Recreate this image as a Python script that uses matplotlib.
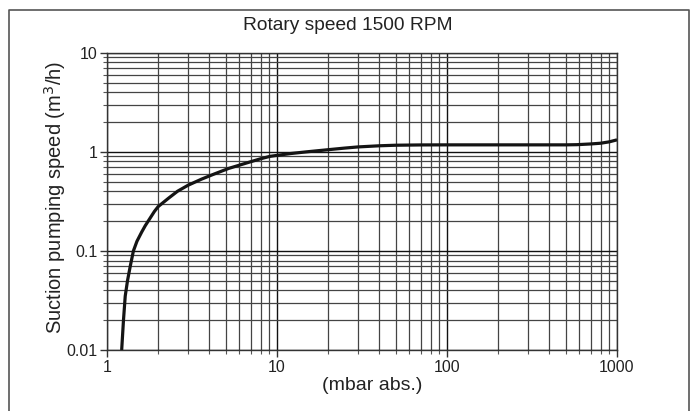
"""Suction pumping speed curve at 1500 RPM."""
import matplotlib
matplotlib.use("Agg")
import matplotlib.pyplot as plt
import matplotlib.ticker as mticker
from matplotlib.lines import Line2D

# pressure (mbar abs.) vs pumping speed (m3/h)
PRESSURE = [1.22, 1.25, 1.28, 1.32, 1.37, 1.43, 1.5, 1.6, 1.68, 1.78, 1.9, 2.0,
            2.3, 2.6, 3.0, 3.6, 4.2, 5.2, 6.6, 8.0, 9.1, 12, 15, 20, 25, 30,
            40, 50, 70, 100, 300, 500, 580, 700, 800, 900, 1000]
SPEED = [0.01, 0.02, 0.035, 0.05, 0.07, 0.1, 0.125, 0.155, 0.18, 0.21, 0.25, 0.28,
         0.34, 0.40, 0.46, 0.53, 0.59, 0.68, 0.77, 0.85, 0.90, 0.96, 1.0, 1.05, 1.09, 1.12,
         1.15, 1.165, 1.173, 1.175, 1.175, 1.175, 1.18, 1.2, 1.22, 1.26, 1.32]

TITLE = "Rotary speed 1500 RPM"
XLABEL = "(mbar abs.)"
YLABEL = "Suction pumping speed (m$^3$/h)"

plt.rcParams["font.family"] = ["Liberation Sans", "DejaVu Sans"]

fig = plt.figure(figsize=(6.93, 4.11), dpi=100)
W, H = 693, 411
ax = fig.add_axes([107 / W, 1 - 350 / H, (617 - 107) / W, (350 - 52.7) / H])

ax.set_xscale("log")
ax.set_yscale("log")
ax.set_xlim(1, 1000)
ax.set_ylim(0.01, 10)

ax.plot(PRESSURE, SPEED, color="#141414", lw=2.3, zorder=5, solid_capstyle="butt")

ax.xaxis.set_major_locator(mticker.LogLocator(base=10))
ax.yaxis.set_major_locator(mticker.LogLocator(base=10))
ax.xaxis.set_minor_locator(mticker.LogLocator(base=10, subs=range(2, 10)))
ax.yaxis.set_minor_locator(mticker.LogLocator(base=10, subs=range(2, 10)))
ax.xaxis.set_minor_formatter(mticker.NullFormatter())
ax.yaxis.set_minor_formatter(mticker.NullFormatter())
ax.xaxis.set_major_formatter(mticker.FuncFormatter(lambda v, _: f"{v:g}"))
ax.yaxis.set_major_formatter(mticker.FuncFormatter(lambda v, _: f"{v:g}"))

ax.grid(True, which="major", color="#111111", lw=1.0)
ax.grid(True, which="minor", color="#444444", lw=0.9)
ax.tick_params(which="major", length=5, width=1.0, color="#333333",
               labelsize=11.5, labelcolor="#222222", pad=2)
ax.tick_params(which="minor", length=3, width=0.8, color="#555555")
for s in ax.spines.values():
    s.set_color("#333333")
    s.set_linewidth(1.0)

fig.text(55 / W, 1 - 197 / H, YLABEL, fontsize=14.5, color="#222222",
         rotation=90, ha="center", va="center")
fig.text(372 / W, 1 - 385 / H, XLABEL, fontsize=14, color="#222222",
         ha="center", va="center")
fig.text(348 / W, 1 - 25 / H, TITLE, fontsize=13.8, color="#222222",
         ha="center", va="center")

# outer frame (open at the bottom)
fx = [9 / W, 9 / W, 689 / W, 689 / W]
fy = [0, 1 - 10 / H, 1 - 10 / H, 0]
fig.add_artist(Line2D(fx, fy, transform=fig.transFigure, color="#555555", lw=1.2))

fig.savefig("out.png", dpi=100)
